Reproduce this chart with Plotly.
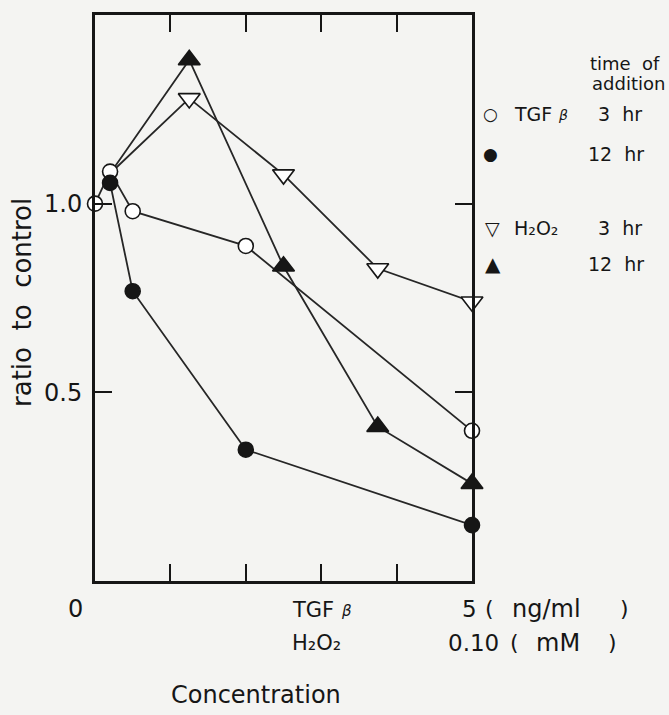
import plotly.graph_objects as go

# ---------------- data ----------------
tgf_x_3h = [0, 0.2, 0.5, 2, 5]            # TGF-beta, ng/ml
tgf_y_3h = [1.0, 1.085, 0.98, 0.888, 0.398]
tgf_x_12h = [0.2, 0.5, 2, 5]
tgf_y_12h = [1.055, 0.768, 0.348, 0.148]

h2o2_mM = [0.004, 0.025, 0.05, 0.075, 0.10]  # H2O2, mM
h2o2_y_3h = [1.08, 1.279, 1.077, 0.828, 0.74]
h2o2_y_12h = [1.08, 1.381, 0.834, 0.409, 0.258]

x_ticks = [1, 2, 3, 4]
y_ticks = [0.5, 1.0]
y_ticklabels = ["0.5", "1.0"]

# 5 ng/ml TGF-beta and 0.10 mM H2O2 share the right-hand edge of the axis
TGF_MAX = 5.0
H2O2_MAX = 0.10
h2o2_x = [v / H2O2_MAX * TGF_MAX for v in h2o2_mM]

# ---------------- layout geometry ----------------
W, H = 669, 715
ML, MR, MT, MB = 95, 197, 13, 134
PW, PH = W - ML - MR, H - MT - MB

def pxx(p):
    return (p - ML) / PW

def pxy(p):
    return (H - MB - p) / PH

FONT = "DejaVu Sans, Liberation Sans, Arial"
INK = "#161616"
LINE = "#262626"
BG = "#f4f4f2"

fig = go.Figure()

series = {
    "tgf3": (tgf_x_3h, tgf_y_3h, "circle", "white", [15] * len(tgf_x_3h)),
    "tgf12": (tgf_x_12h, tgf_y_12h, "circle", INK, [15] * len(tgf_x_12h)),
    "h3": (h2o2_x, h2o2_y_3h, "triangle-down", "white", [0] + [19] * (len(h2o2_x) - 1)),
    "h12": (h2o2_x, h2o2_y_12h, "triangle-up", INK, [0] + [19] * (len(h2o2_x) - 1)),
}

# lines first
for key in ["tgf3", "tgf12", "h3", "h12"]:
    xs, ys, sym, fill, sizes = series[key]
    fig.add_trace(go.Scatter(x=xs, y=ys, mode="lines",
                             line=dict(color=LINE, width=1.8),
                             showlegend=False, hoverinfo="skip"))
# markers on top
for key in ["h12", "h3", "tgf3", "tgf12"]:
    xs, ys, sym, fill, sizes = series[key]
    fig.add_trace(go.Scatter(x=xs, y=ys, mode="markers",
                             marker=dict(symbol=sym, size=sizes, color=fill, opacity=1,
                                         line=dict(color=INK, width=1.6)),
                             showlegend=False, cliponaxis=False))

fig.update_xaxes(range=[0, TGF_MAX], showline=True, linecolor=INK, linewidth=3,
                 mirror="ticks", ticks="inside", ticklen=17, tickwidth=1.6,
                 tickcolor=INK, tickvals=x_ticks, showticklabels=False,
                 showgrid=False, zeroline=False)
fig.update_yaxes(range=[0, 1.5], showline=True, linecolor=INK, linewidth=3,
                 mirror="ticks", ticks="inside", ticklen=17, tickwidth=1.6,
                 tickcolor=INK, tickvals=y_ticks, ticktext=y_ticklabels,
                 tickfont=dict(family=FONT, size=24, color=INK),
                 ticklabelstandoff=5, showgrid=False, zeroline=False)

ann = []

def text(s, x, y, size, xanchor="center", angle=0, yanchor="middle"):
    ann.append(dict(text=s, x=pxx(x), y=pxy(y), xref="paper", yref="paper",
                    showarrow=False, xanchor=xanchor, yanchor=yanchor,
                    textangle=angle, font=dict(family=FONT, size=size, color=INK)))

NB = "\u00a0"
# axis titles
text(f"ratio{NB}{NB}to{NB}{NB}control", 22, 302, 26, angle=-90)
text("Concentration", 256, 695, 24)

# x-axis labels
text("0", 75, 609, 24)
text("TGF", 313, 610, 21)
text("<i>β</i>", 346, 611, 15)
text("H₂O₂", 316, 643, 21)
text("5", 469, 609, 23)
text("(", 489, 609, 22)
text("ng/ml", 546, 609, 24)
text(")", 624, 609, 22)
text("0.10", 473, 643, 23)
text("(", 514, 643, 22)
text("mM", 558, 643, 24)
text(")", 612, 643, 22)

# legend
text(f"time{NB}{NB}of", 625, 62, 18)
text("addition", 628, 82, 18)
text("○", 491, 112, 17)
text("TGF", 533, 112, 19)
text("<i>β</i>", 563, 113, 14)
text(f"3{NB}{NB}hr", 620, 112, 19)
text("●", 491, 152, 17)
text(f"12{NB}{NB}hr", 616, 152, 19)
text("▽", 492, 227, 19)
text("H₂O₂", 536, 227, 19)
text(f"3{NB}{NB}hr", 620, 227, 19)
text("▲", 493, 263, 20)
text(f"12{NB}{NB}hr", 616, 263, 19)

fig.update_layout(width=W, height=H,
                  margin=dict(l=ML, r=MR, t=MT, b=MB),
                  paper_bgcolor=BG, plot_bgcolor=BG,
                  annotations=ann, showlegend=False)

fig.write_html("out.html")
